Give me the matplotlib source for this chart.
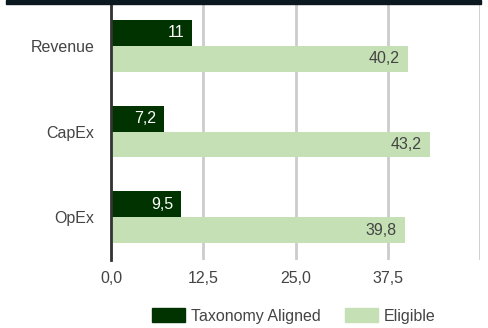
import matplotlib
matplotlib.use('Agg')
import matplotlib.pyplot as plt
from matplotlib.patches import Rectangle, Patch
import numpy as np

categories = ['Revenue', 'CapEx', 'OpEx']
aligned = [11, 7.2, 9.5]
eligible = [40.2, 43.2, 39.8]
series_names = ['Taxonomy Aligned', 'Eligible']
x_ticks = [0, 12.5, 25, 37.5, 50]
x_tick_labels = ['0,0', '12,5', '25,0', '37,5', '']

dark_green = '#003300'
light_green = '#c5e0b4'
text_color = '#444444'
fs = 11.5

plt.rcParams['font.family'] = ['Liberation Sans', 'DejaVu Sans']

fig = plt.figure(figsize=(4.88, 3.28), dpi=100)
ax = fig.add_axes([111 / 488, 68 / 328, (480 - 111) / 488, (325 - 68) / 328])

# dark band along the top edge
fig.patches.append(Rectangle((6 / 488, 1 - 3.5 / 328), 475 / 488, 3.5 / 328,
                             transform=fig.transFigure, color='#0b1820', zorder=5))

y = np.arange(len(categories))
h = 0.3
bars_a = ax.barh(y - h / 2, aligned, height=h, color=dark_green, zorder=3)
bars_e = ax.barh(y + h / 2, eligible, height=h, color=light_green, zorder=3)


def fmt(v):
    return f'{v:g}'.replace('.', ',')


for bar, v in zip(bars_a, aligned):
    ax.annotate(fmt(v), (v, bar.get_y() + bar.get_height() / 2),
                xytext=(-8, 0), textcoords='offset pixels',
                ha='right', va='center', color='white', fontsize=fs, zorder=4)
for bar, v in zip(bars_e, eligible):
    ax.annotate(fmt(v), (v, bar.get_y() + bar.get_height() / 2),
                xytext=(-8, 0), textcoords='offset pixels',
                ha='right', va='center', color=text_color, fontsize=fs, zorder=4)

ax.set_xlim(0, 50)
ax.set_ylim(len(categories) - 0.5, -0.5)
ax.set_xticks(x_ticks)
ax.set_xticklabels(x_tick_labels)
ax.set_yticks(y)
ax.set_yticklabels(categories)
ax.tick_params(axis='both', length=0, labelsize=fs, labelcolor=text_color)
ax.tick_params(axis='x', pad=8)
ax.tick_params(axis='y', pad=12)

ax.grid(axis='x', color='#cccccc', linewidth=2, zorder=0)
for s in ['top', 'right', 'bottom']:
    ax.spines[s].set_visible(False)
ax.spines['left'].set_color('#333333')
ax.spines['left'].set_linewidth(2)
ax.spines['left'].set_zorder(4)

handles = [Patch(color=dark_green), Patch(color=light_green)]
fig.legend(handles, series_names, loc='center', bbox_to_anchor=(294 / 488, 12 / 328),
           ncol=2, frameon=False, fontsize=fs, labelcolor=text_color,
           handlelength=2.06, handleheight=1.0, handletextpad=0.38, columnspacing=1.5)

fig.savefig('out.png', dpi=100)
